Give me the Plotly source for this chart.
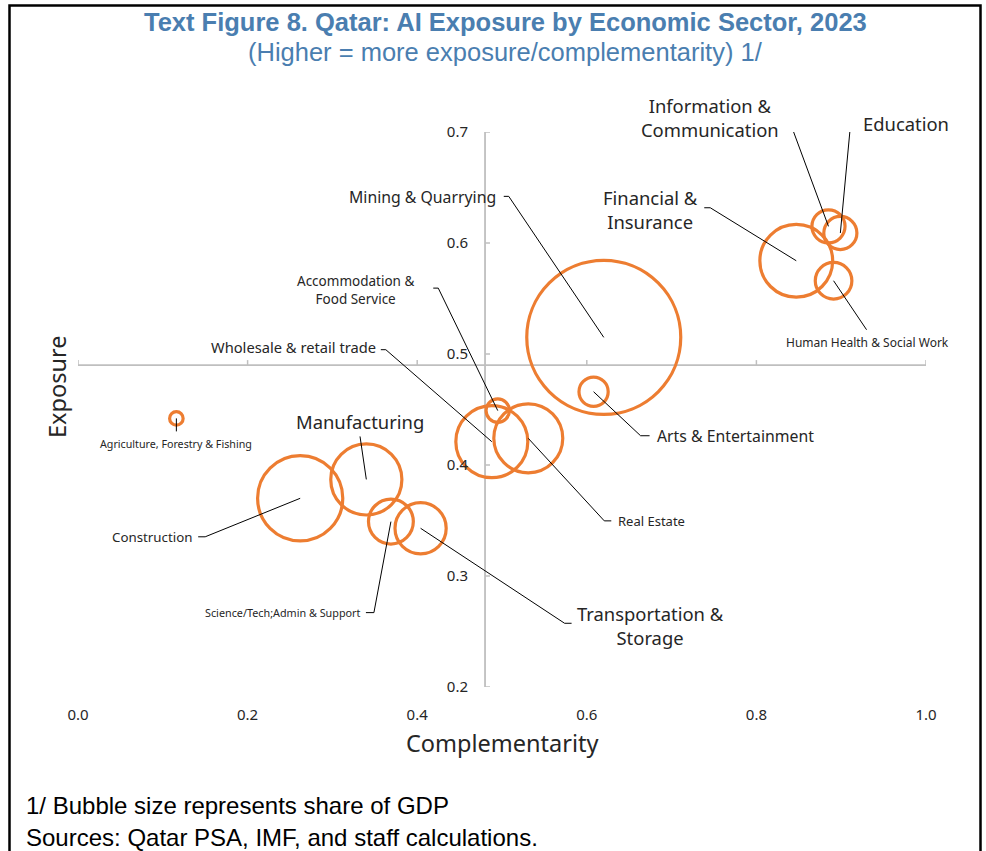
import plotly.graph_objects as go

# ---------------- data ----------------
sectors = [
    "Mining & Quarrying", "Arts & Entertainment", "Financial & Insurance",
    "Information & Communication", "Education", "Human Health & Social Work",
    "Agriculture, Forestry & Fishing", "Construction", "Manufacturing",
    "Science/Tech;Admin & Support", "Transportation & Storage",
    "Accommodation & Food Service", "Wholesale & retail trade", "Real Estate",
]
complementarity = [0.620, 0.608, 0.847, 0.885, 0.899, 0.891, 0.116,
                   0.262, 0.340, 0.369, 0.404, 0.495, 0.488, 0.531]
exposure = [0.515, 0.466, 0.584, 0.615, 0.609, 0.566, 0.442,
            0.370, 0.387, 0.349, 0.343, 0.449, 0.421, 0.424]
gdp_share = [38.9, 1.4, 8.7, 1.8, 1.8, 2.2, 0.3,
             11.9, 8.3, 3.3, 4.3, 0.9, 8.5, 7.8]

x_ticks = [0.0, 0.2, 0.4, 0.6, 0.8, 1.0]
x_tick_text = ["0.0", "0.2", "0.4", "0.6", "0.8", "1.0"]
y_ticks = [0.2, 0.3, 0.4, 0.5, 0.6, 0.7]
y_tick_text = ["0.2", "0.3", "0.4", "0.5", "0.6", "0.7"]
x_cross = 0.48
y_cross = 0.49

title = "Text Figure 8. Qatar: AI Exposure by Economic Sector, 2023"
subtitle = "(Higher = more exposure/complementarity) 1/"
notes = ["1/ Bubble size represents share of GDP",
         "Sources: Qatar PSA, IMF, and staff calculations."]

# ---------------- label styling (pixel offsets from bubble centre, screen y down) ----------------
BIG = 18.4
label_style = {
    "Mining & Quarrying": dict(text="Mining & Quarrying", size=15.8, dx=-106, dy=-140, xa="right",
                               path=[(-100, -141), (-95, -141), (0, 0)]),
    "Arts & Entertainment": dict(text="Arts & Entertainment", size=15.8, dx=61, dy=44, xa="left",
                                 path=[(0, 0), (47, 44), (56, 44)]),
    "Financial & Insurance": dict(text="Financial &<br>Insurance", size=BIG, dx=-146, dy=-51, xa="center",
                                  path=[(-92, -53), (-86, -53), (0, 0)]),
    "Information & Communication": dict(text="Information &<br>Communication", size=BIG, dx=-118, dy=-109,
                                        xa="center", path=[(-46, -111), (-41, -111), (0, 0)]),
    "Education": dict(text="Education", size=BIG, dx=21, dy=-110, xa="left",
                      path=[(0, 0), (10.5, -112), (16, -112)]),
    "Human Health & Social Work": dict(text="Human Health & Social Work", size=12, dx=33.5, dy=62,
                                      xa="center", path=[(0, 0), (33, 49)]),
    "Agriculture, Forestry & Fishing": dict(text="Agriculture, Forestry & Fishing", size=10.7, dx=0, dy=26,
                                           xa="center", path=[(0, 0), (0, 13)]),
    "Construction": dict(text="Construction", size=13.3, dx=-106, dy=38.5, xa="right",
                         path=[(-102, 38.5), (-95, 38.5), (0, 0)]),
    "Manufacturing": dict(text="Manufacturing", size=BIG, dx=-6.5, dy=-57.5, xa="center",
                          path=[(0, 0), (-6.3, -43)]),
    "Science/Tech;Admin & Support": dict(text="Science/Tech;Admin & Support", size=10.8, dx=-28, dy=91,
                                         xa="right", path=[(-25, 91), (-17, 91), (0, 0)]),
    "Transportation & Storage": dict(text="Transportation &<br>Storage", size=BIG, dx=229.5, dy=97,
                                     xa="center", path=[(0, 0), (144, 95), (151, 95)]),
    "Accommodation & Food Service": dict(text="Accommodation &<br>Food Service", size=13.5, dx=-142.5,
                                         dy=-120.5, xa="center",
                                         path=[(-64.5, -122.5), (-59.5, -122.5), (0, 0)]),
    "Wholesale & retail trade": dict(text="Wholesale & retail trade", size=14.7, dx=-113.5, dy=-95,
                                     xa="right", path=[(-111, -92), (-106, -92), (0, 0)]),
    "Real Estate": dict(text="Real Estate", size=13, dx=88, dy=82.5, xa="left",
                        path=[(0, 0), (76, 82.5), (83, 82.5)]),
}

ORANGE = "#ED7D31"
TEXT = "#262626"
AXIS = "#BFBFBF"
FONT = "Noto Sans, Open Sans, DejaVu Sans, sans-serif"
NARROW = "Liberation Sans Narrow, Arial Narrow, Liberation Sans, Arial"

W, H = 986, 851
L, R, T, B = 78, 60, 132, 164
PW, PH = W - L - R, H - T - B


def pxx(p):
    return (p - L) / PW


def pxy(p):
    return (H - B - p) / PH


fig = go.Figure()

max_r = 77.0
sizeref = max(gdp_share) / (2 * max_r ** 2)

fig.add_trace(go.Scatter(
    x=complementarity, y=exposure, mode="markers", text=sectors,
    marker=dict(size=gdp_share, sizemode="area", sizeref=sizeref, sizemin=0, opacity=1,
                color="rgba(0,0,0,0)", line=dict(color=ORANGE, width=3.2)),
    hovertemplate="%{text}<br>Complementarity %{x}<br>Exposure %{y}<extra></extra>",
    showlegend=False, cliponaxis=False,
))

shapes = []
annotations = []

# crossing axis lines
shapes.append(dict(type="line", xref="x", yref="y", x0=0, x1=1, y0=y_cross, y1=y_cross,
                   line=dict(color=AXIS, width=1.8), layer="below"))
shapes.append(dict(type="line", xref="x", yref="y", x0=x_cross, x1=x_cross, y0=0.2, y1=0.7,
                   line=dict(color=AXIS, width=1.8), layer="below"))
for xv in x_ticks:
    shapes.append(dict(type="line", xref="x", yref="y", x0=xv, x1=xv, ysizemode="pixel",
                       yanchor=y_cross, y0=0, y1=5, line=dict(color=AXIS, width=1.5), layer="below"))
for yv in y_ticks:
    shapes.append(dict(type="line", xref="x", yref="y", y0=yv, y1=yv, xsizemode="pixel",
                       xanchor=x_cross, x0=0, x1=5, line=dict(color=AXIS, width=1.5), layer="below"))

# labels and leader lines
for s, cx, cy in zip(sectors, complementarity, exposure):
    st = label_style[s]
    annotations.append(dict(x=cx, y=cy, xref="x", yref="y", text=st["text"], showarrow=False,
                            xshift=st["dx"], yshift=-st["dy"], xanchor=st["xa"], yanchor="middle",
                            align="center", font=dict(size=st["size"], color=TEXT, family=FONT)))
    pts = st["path"]
    path = "M " + " L ".join(f"{px},{-py}" for px, py in pts)
    shapes.append(dict(type="path", xref="x", yref="y", xsizemode="pixel", ysizemode="pixel",
                       xanchor=cx, yanchor=cy, path=path, line=dict(color="black", width=1)))

# border
shapes.append(dict(type="rect", xref="paper", yref="paper", x0=pxx(9.5), x1=pxx(980.5),
                   y0=pxy(870), y1=pxy(5.5), line=dict(color="black", width=2.5)))

# titles and texts
annotations += [
    dict(x=pxx(505), y=pxy(22), xref="paper", yref="paper", text=f"<b>{title}</b>", showarrow=False,
         xanchor="center", yanchor="middle", font=dict(size=25.5, color="#4A7EB0", family=NARROW)),
    dict(x=pxx(505), y=pxy(52), xref="paper", yref="paper", text=subtitle, showarrow=False,
         xanchor="center", yanchor="middle", font=dict(size=25.5, color="#4A7EB0", family=NARROW)),
    dict(x=pxx(502), y=pxy(743), xref="paper", yref="paper", text="Complementarity", showarrow=False,
         xanchor="center", yanchor="middle", font=dict(size=23.5, color=TEXT, family=FONT)),
    dict(x=pxx(57), y=pxy(387), xref="paper", yref="paper", text="Exposure", showarrow=False,
         xanchor="center", yanchor="middle", textangle=-90, font=dict(size=23.5, color=TEXT, family=FONT)),
    dict(x=pxx(24), y=pxy(805), xref="paper", yref="paper", text=notes[0], showarrow=False,
         xanchor="left", yanchor="middle", font=dict(size=24, color="black", family="Liberation Sans, Arial")),
    dict(x=pxx(24), y=pxy(838), xref="paper", yref="paper", text=notes[1], showarrow=False,
         xanchor="left", yanchor="middle", font=dict(size=24, color="black", family="Liberation Sans, Arial")),
]

fig.update_layout(
    width=W, height=H,
    margin=dict(l=L, r=R, t=T, b=B, pad=0),
    paper_bgcolor="white", plot_bgcolor="white",
    shapes=shapes, annotations=annotations,
    font=dict(family=FONT, color=TEXT),
    xaxis=dict(range=[0, 1], tickvals=x_ticks, ticktext=x_tick_text, showgrid=False, zeroline=False,
               showline=False, ticks="", ticklabelstandoff=17, tickfont=dict(size=15, color=TEXT)),
    yaxis=dict(range=[0.2, 0.7], tickvals=y_ticks, ticktext=y_tick_text, showgrid=False, zeroline=False,
               showline=False, ticks="", anchor="free", position=x_cross, ticklabelstandoff=17,
               tickfont=dict(size=15, color=TEXT)),
)

fig.write_html("out.html", config={"displayModeBar": False},
               post_script="document.body.style.margin='0px';")
